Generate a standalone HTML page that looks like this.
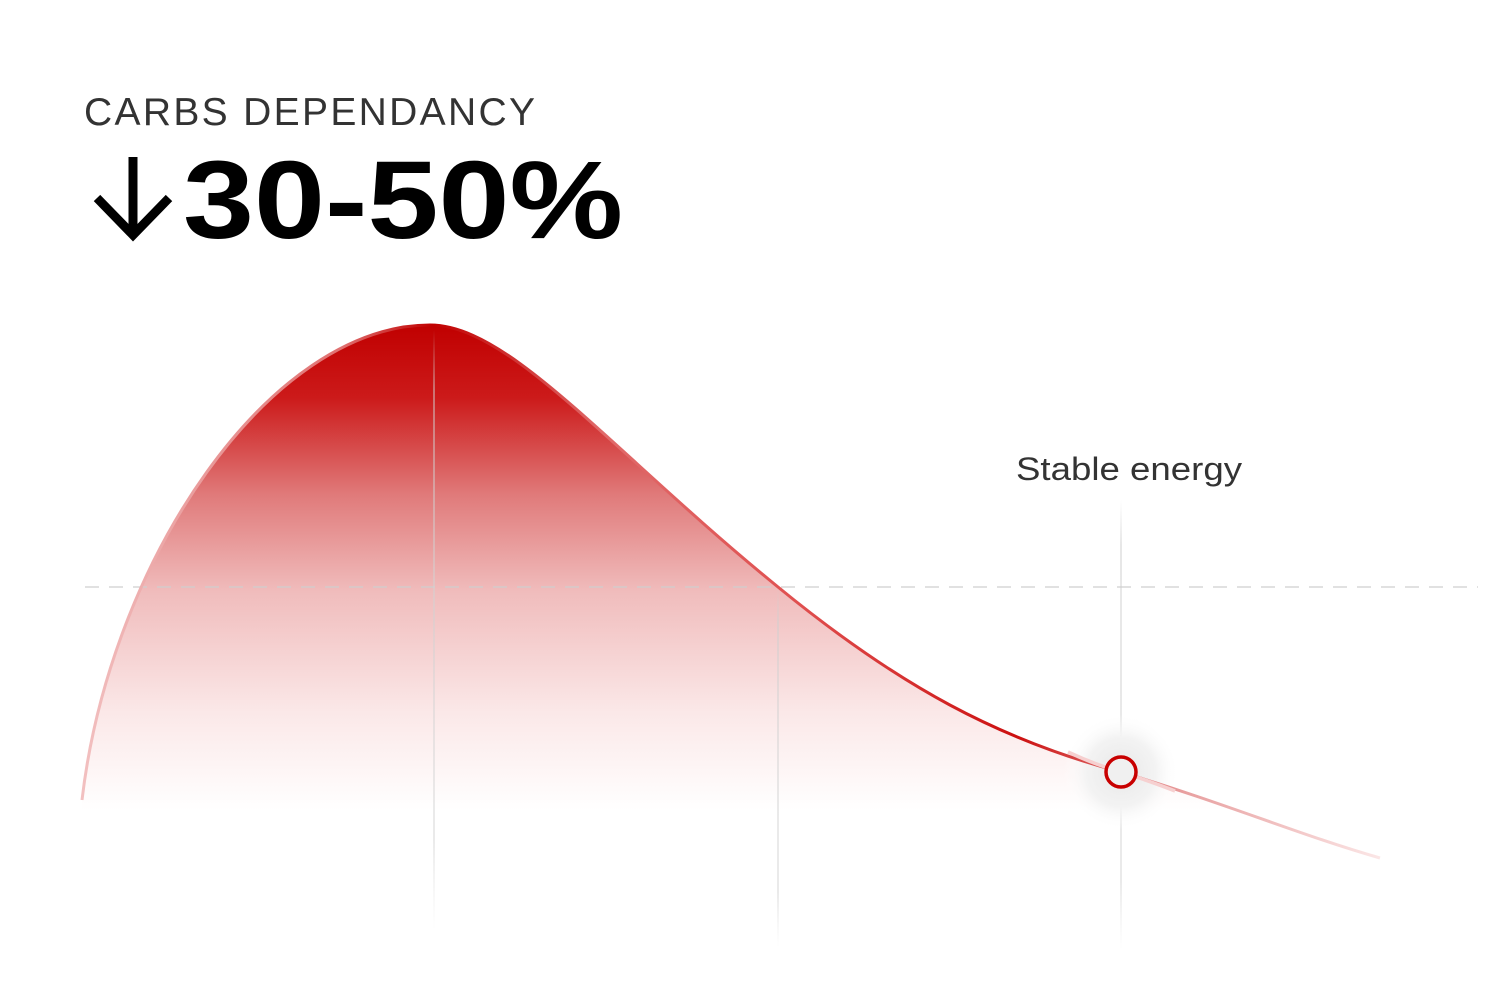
<!DOCTYPE html>
<html><head><meta charset="utf-8"><style>
html,body{margin:0;padding:0;background:#fff;}
svg{display:block;}
</style></head><body>
<svg width="1512" height="1000" viewBox="0 0 1512 1000" xmlns="http://www.w3.org/2000/svg">
<defs>
<linearGradient id="fill" x1="0" y1="325" x2="0" y2="810" gradientUnits="userSpaceOnUse">
<stop offset="0" stop-color="#c00000"/>
<stop offset="0.15" stop-color="#cc1a1a"/>
<stop offset="0.35" stop-color="#e07a7a"/>
<stop offset="0.55" stop-color="#f0bcbc"/>
<stop offset="0.8" stop-color="#fbe8e8"/>
<stop offset="1" stop-color="#ffffff"/>
</linearGradient>
<linearGradient id="vfade" x1="0" y1="0" x2="0" y2="1">
<stop offset="0" stop-color="#d0d0d0" stop-opacity="0"/>
<stop offset="0.1" stop-color="#cfcfcf"/>
<stop offset="0.85" stop-color="#d6d6d6"/>
<stop offset="1" stop-color="#e0e0e0" stop-opacity="0"/>
</linearGradient>
<linearGradient id="stroke" x1="82" y1="0" x2="1380" y2="0" gradientUnits="userSpaceOnUse">
<stop offset="0" stop-color="#f2c0c0"/>
<stop offset="0.2" stop-color="#e07070"/>
<stop offset="0.27" stop-color="#c00000"/>
<stop offset="0.4" stop-color="#e06a6a"/>
<stop offset="0.55" stop-color="#e05050"/>
<stop offset="0.72" stop-color="#cc1010"/>
<stop offset="0.85" stop-color="#e8a0a0"/>
<stop offset="1" stop-color="#fbe6e6"/>
</linearGradient>
<radialGradient id="glow" cx="0.5" cy="0.5" r="0.5">
<stop offset="0" stop-color="#e8e8e8"/>
<stop offset="0.6" stop-color="#f3f3f3"/>
<stop offset="1" stop-color="#ffffff" stop-opacity="0"/>
</radialGradient>
</defs>

<path d="M82,800 C110,560 270,325 430,325 C510,325 610,450 778,587 C900,687 1000,740 1121,772 C1230,805 1300,835 1380,858 L1380,900 L82,900 Z" fill="url(#fill)"/>

<line x1="85" y1="587" x2="1478" y2="587" stroke="#cfcfcf" stroke-width="1.3" stroke-dasharray="14,10"/>
<rect x="433.5" y="330" width="1" height="600" fill="url(#vfade)"/>
<rect x="777.5" y="587" width="1" height="360" fill="url(#vfade)"/>
<rect x="1120.5" y="500" width="1" height="450" fill="url(#vfade)"/>

<circle cx="1121" cy="772" r="58" fill="url(#glow)"/>

<path d="M82,800 C110,560 270,325 430,325 C510,325 610,450 778,587 C900,687 1000,740 1121,772 C1230,805 1300,835 1380,858" fill="none" stroke="url(#stroke)" stroke-width="3"/>
<path d="M1068,752 C1085,760 1100,766 1121,772 C1140,778 1160,785 1175,791" fill="none" stroke="#f6d0d0" stroke-width="3.5"/>
<circle cx="1121" cy="772" r="15" fill="#f0f0f0" stroke="#c80000" stroke-width="3.5"/>

<text x="84" y="125" font-family="Liberation Sans, sans-serif" font-size="39" fill="#333" textLength="451" lengthAdjust="spacing">CARBS DEPENDANCY</text>
<path d="M133,157 V234 M97,198 L133,235 L169,198" fill="none" stroke="#000" stroke-width="9"/>
<text x="183" y="238" font-family="Liberation Sans, sans-serif" font-weight="bold" font-size="110" fill="#000" textLength="440" lengthAdjust="spacingAndGlyphs">30-50%</text>
<text x="1016" y="480" font-family="Liberation Sans, sans-serif" font-size="32" fill="#333" textLength="226" lengthAdjust="spacingAndGlyphs">Stable energy</text>
</svg>
</body></html>
